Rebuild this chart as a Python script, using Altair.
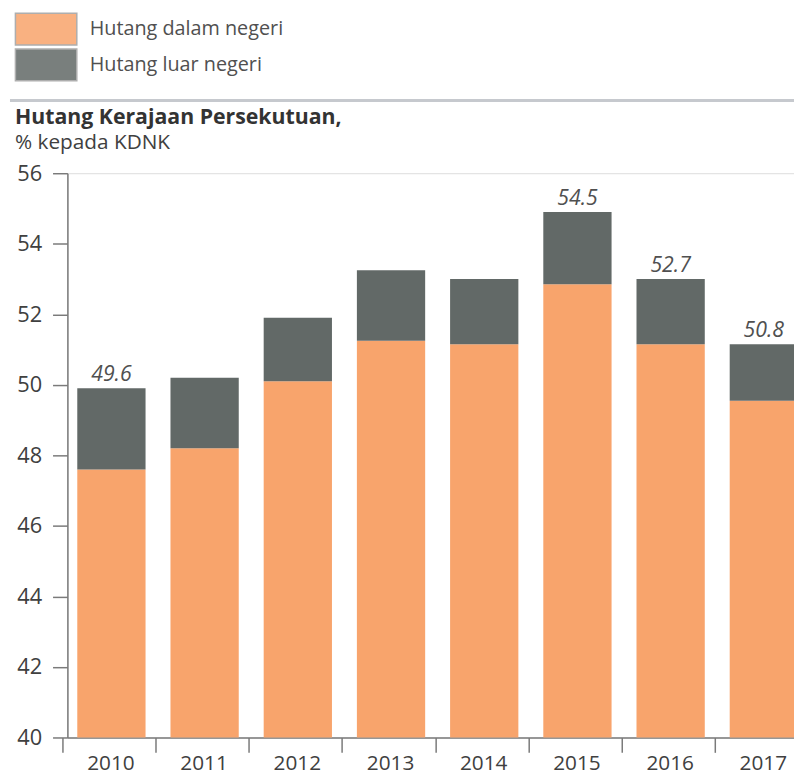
import altair as alt
import pandas as pd

# ---- data ----
years = ["2010", "2011", "2012", "2013", "2014", "2015", "2016", "2017"]
domestic = [47.6, 48.2, 50.1, 51.25, 51.15, 52.85, 51.15, 49.55]   # Hutang dalam negeri (bar top)
external = [2.3, 2.0, 1.8, 2.0, 1.85, 2.05, 1.85, 1.6]             # Hutang luar negeri (segment height)
label_years = ["2010", "2015", "2016", "2017"]
label_texts = ["49.6", "54.5", "52.7", "50.8"]
y_ticks = [40, 42, 44, 46, 48, 50, 52, 54, 56]
series_names = ["Hutang dalam negeri", "Hutang luar negeri"]
series_colors = ["#F8A46C", "#626967"]
title_text = "Hutang Kerajaan Persekutuan,"
subtitle_text = "% kepada KDNK"

Y_MIN = y_ticks[0]
Y_MAX = y_ticks[-1]

rows = []
for yr, d, e in zip(years, domestic, external):
    rows.append({"year": yr, "series": series_names[0], "start": Y_MIN, "end": d})
    rows.append({"year": yr, "series": series_names[1], "start": d, "end": d + e})
bars_df = pd.DataFrame(rows)

totals = {yr: d + e for yr, d, e in zip(years, domestic, external)}
labels_df = pd.DataFrame({
    "year": label_years,
    "label": label_texts,
    "top": [totals[y] for y in label_years],
})

FONT = "Open Sans"
TEXT = "#404040"

x_enc = alt.X(
    "year:N",
    sort=years,
    scale=alt.Scale(range=[0, 748], paddingInner=0.2675, paddingOuter=0.106),
    axis=alt.Axis(
        title=None, labelAngle=0, tickSize=15, tickOffset=-49.5, labelOffset=48.5,
        labelPadding=0, labelFontSize=21, labelColor=TEXT, labelFont=FONT,
        domainColor="#7a7a7a", tickColor="#7a7a7a", domainWidth=1.5, tickWidth=1.5,
        grid=False,
    ),
)
y_scale = alt.Scale(domain=[Y_MIN, Y_MAX], nice=False, zero=False)
y_axis = alt.Axis(
    title=None, values=y_ticks, tickSize=15, labelPadding=11,
    labelFontSize=22, labelColor=TEXT, labelFont=FONT,
    domainColor="#7a7a7a", tickColor="#7a7a7a", domainWidth=1.5, tickWidth=1.5,
    grid=False,
)

rect_path = "M-1.9375,-1H1.9375V1H-1.9375Z"

bars = alt.Chart(bars_df).mark_bar().encode(
    x=x_enc,
    y=alt.Y("end:Q", scale=y_scale, axis=y_axis),
    y2="start:Q",
    color=alt.Color(
        "series:N",
        scale=alt.Scale(domain=series_names, range=series_colors),
        legend=alt.Legend(
            orient="none", legendX=-38.5, legendY=-162.5, title=None,
            symbolType=rect_path, symbolSize=1024, symbolOpacity=0.85,
            symbolStrokeColor="#a0a0a0", symbolStrokeWidth=1.5,
            labelFontSize=20, labelColor="#505050", labelFont=FONT, labelLimit=0,
            rowPadding=-2, labelOffset=27, padding=0,
        ),
    ),
)

labels = alt.Chart(labels_df).mark_text(
    dy=-7, baseline="alphabetic", fontSize=21.5, fontStyle="italic",
    font=FONT, color="#505050",
).encode(
    x=alt.X("year:N", sort=years),
    y=alt.Y("top:Q"),
    text="label:N",
)

one = pd.DataFrame({"t": [title_text], "s": [subtitle_text]})
title = alt.Chart(one).mark_text(
    align="left", baseline="alphabetic", fontSize=21.5, fontWeight="bold",
    font=FONT, color="#333333",
).encode(text="t:N", x=alt.value(-53), y=alt.value(-49.5))
subtitle = alt.Chart(one).mark_text(
    align="left", baseline="alphabetic", fontSize=21,
    font=FONT, color="#404040",
).encode(text="s:N", x=alt.value(-53), y=alt.value(-24.5))
divider = alt.Chart(one).mark_rule(color="#c6c9ce", strokeWidth=3).encode(
    x=alt.value(-58), x2=alt.value(760), y=alt.value(-73.5)
)

chart = alt.layer(divider, bars, labels, title, subtitle).properties(
    width=734, height=570,
    autosize=alt.AutoSizeParams(type="none"),
    padding={"left": 60, "top": 163, "right": 0, "bottom": 34},
).configure_view(stroke=None).configure(font=FONT)

chart.save("out.html", embed_options={"renderer": "svg", "actions": False})
